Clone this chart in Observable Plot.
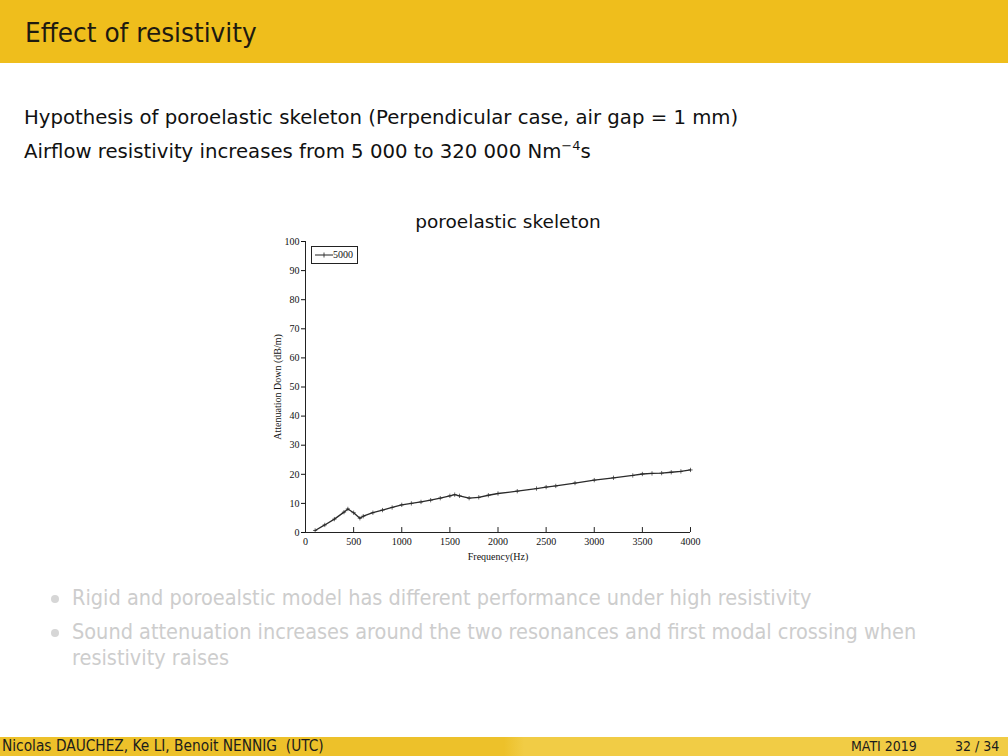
<!DOCTYPE html>
<html>
<head>
<meta charset="utf-8">
<script src="https://cdn.jsdelivr.net/npm/d3@7"></script>
<script src="https://cdn.jsdelivr.net/npm/@observablehq/plot@0.6"></script>
<style>
  html, body { margin: 0; padding: 0; background: #fff; }
  body { width: 1008px; height: 756px; position: relative; overflow: hidden; font-family: "DejaVu Sans", sans-serif; }
  .header { position: absolute; left: 0; top: 0; width: 1008px; height: 63px; background: #EFBE1C; }
  .title { position: absolute; left: 25px; top: 17px; font-size: 27px; color: #1e1a10; transform: scaleX(0.92); transform-origin: left center; white-space: nowrap; }
  .body1, .body2 { position: absolute; left: 24px; font-size: 19.7px; color: #111; white-space: nowrap; }
  .body1 { top: 106px; }
  .body2 { top: 140px; }
  .ctitle { position: absolute; left: 508px; top: 211px; transform: translateX(-50%); font-size: 18.5px; color: #111; white-space: nowrap; }
  #chart { position: absolute; left: 250px; top: 200px; }
  .legend { position: absolute; left: 311px; top: 246px; width: 45px; height: 16px; border: 1px solid #222; background: #fff; font-family: "Liberation Serif", serif; font-size: 10px; color: #111; }
  .legend svg { position: absolute; left: 3px; top: 3px; }
  .legend span { position: absolute; left: 21px; top: 2px; }
  .bullet { position: absolute; left: 72px; font-size: 21.5px; color: #cdcdcd; white-space: nowrap; font-family: "DejaVu Sans Condensed", "Liberation Sans Narrow", sans-serif; }
  .dot { position: absolute; width: 8px; height: 8px; border-radius: 50%; background: #d6d6d6; }
  .footer { position: absolute; left: 0; top: 737px; width: 1008px; height: 19px; background: linear-gradient(to right, #EDC12A 0%, #EDC12A 50%, #F1CC45 52%, #F1CC45 100%); }
  .ftext { position: absolute; top: 738px; font-size: 14px; color: #1c1c1c; white-space: nowrap; font-family: "DejaVu Sans Condensed", "Liberation Sans Narrow", sans-serif; }
</style>
</head>
<body>
<div class="header"></div>
<div class="title">Effect of resistivity</div>
<div class="body1">Hypothesis of poroelastic skeleton (Perpendicular case, air gap = 1 mm)</div>
<div class="body2">Airflow resistivity increases from 5 000 to 320 000 Nm<sup style="font-size:13px;vertical-align:8px;line-height:0">−4</sup>s</div>
<div class="ctitle">poroelastic skeleton</div>
<div id="chart"></div>
<div class="legend"><svg width="18" height="10"><line x1="0" y1="5" x2="18" y2="5" stroke="#222" stroke-width="1"/><line x1="9" y1="2.5" x2="9" y2="7.5" stroke="#222" stroke-width="0.8"/></svg><span>5000</span></div>

<div class="dot" style="left:51px; top:595px;"></div>
<div class="bullet" style="top:585px;">Rigid and poroealstic model has different performance under high resistivity</div>
<div class="dot" style="left:51px; top:629px;"></div>
<div class="bullet" style="top:619px;">Sound attenuation increases around the two resonances and first modal crossing when</div>
<div class="bullet" style="top:645px;">resistivity raises</div>

<div class="footer"></div>
<div class="ftext" style="left:2px; font-size:15.3px; top:737px;">Nicolas DAUCHEZ, Ke LI, Benoit NENNIG&nbsp; (UTC)</div>
<div class="ftext" style="left:851px;">MATI 2019</div>
<div class="ftext" style="left:955px;">32 / 34</div>

<script>
const freq = [100, 200, 300, 400, 440, 500, 565, 600, 700, 800, 900, 1000, 1100, 1200, 1300, 1400, 1500, 1550, 1600, 1700, 1800, 1900, 2000, 2200, 2400, 2500, 2600, 2800, 3000, 3200, 3400, 3500, 3600, 3700, 3800, 3900, 4000];
const atten = [0.7, 2.6, 4.6, 7.0, 8.1, 6.8, 4.9, 5.6, 6.8, 7.7, 8.6, 9.5, 10.0, 10.5, 11.1, 11.8, 12.6, 13.0, 12.6, 11.8, 12.1, 12.8, 13.4, 14.2, 15.1, 15.6, 16.0, 17.0, 18.0, 18.8, 19.6, 20.1, 20.3, 20.4, 20.7, 21.0, 21.5];
const xTicks = [0, 500, 1000, 1500, 2000, 2500, 3000, 3500, 4000];
const yTicks = [0, 10, 20, 30, 40, 50, 60, 70, 80, 90, 100];
const xLabel = "Frequency(Hz)";
const yLabel = "Attenuation Down (dB/m)";

const data = freq.map((f, i) => ({f, a: atten[i]}));

const chart = Plot.plot({
  width: 460,
  height: 380,
  marginLeft: 55,
  marginRight: 20,
  marginTop: 41,
  marginBottom: 48,
  style: {fontFamily: "'Liberation Serif', 'DejaVu Serif', serif", fontSize: "10px", color: "#111", background: "transparent"},
  x: {domain: [0, 4000]},
  y: {domain: [0, 100]},
  marks: [
    Plot.axisX({ticks: xTicks, tickSize: 0, tickPadding: 5, tickFormat: d => String(d), label: xLabel, labelAnchor: "center", labelArrow: "none", labelOffset: 27, fontSize: 10}),
    Plot.axisY({ticks: yTicks, tickSize: 4, tickPadding: 2, tickFormat: d => String(d), label: yLabel, labelAnchor: "center", labelArrow: "none", labelOffset: 32, fontSize: 10}),
    Plot.ruleX(xTicks, {x: d => d, y1: 0, y2: 1.7, stroke: "#222", strokeWidth: 1}),
    Plot.ruleY([0], {stroke: "#222", strokeWidth: 1}),
    Plot.ruleX([0], {stroke: "#222", strokeWidth: 1}),
    Plot.line(data, {x: "f", y: "a", stroke: "#2a2a2a", strokeWidth: 1.3}),
    Plot.dot(data, {x: "f", y: "a", symbol: "plus", r: 1.5, stroke: "#2a2a2a", strokeWidth: 0.7})
  ]
});
document.getElementById("chart").appendChild(chart);
</script>
</body>
</html>
